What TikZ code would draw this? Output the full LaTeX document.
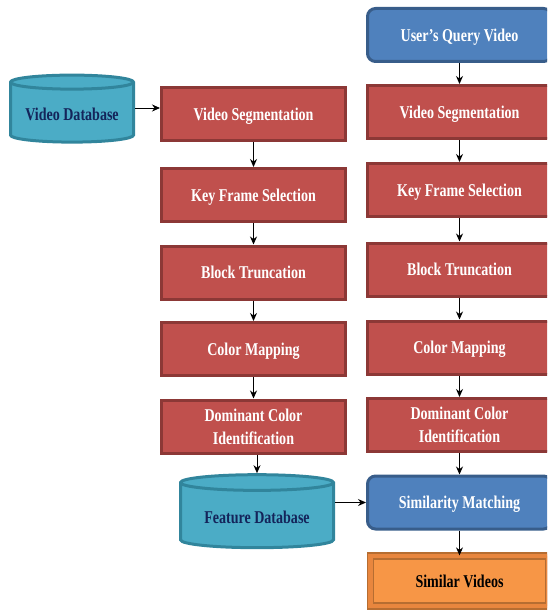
\documentclass[tikz,border=0pt]{standalone}
\usepackage{fontspec}
\setmainfont{Liberation Serif}[FakeStretch=0.78]
\usetikzlibrary{shapes.geometric,arrows.meta}
\definecolor{boxred}{RGB}{192,80,77}
\definecolor{boxredline}{RGB}{140,56,54}
\definecolor{boxblue}{RGB}{79,129,189}
\definecolor{boxblueline}{RGB}{56,93,138}
\definecolor{dbcyan}{RGB}{75,172,198}
\definecolor{dbcyanline}{RGB}{49,133,156}
\definecolor{dbtext}{RGB}{20,36,90}
\definecolor{outorange}{RGB}{247,150,70}
\definecolor{outband}{RGB}{232,134,62}
\definecolor{outorangeline}{RGB}{182,109,49}
\tikzstyle{arrow} = [-{Stealth[length=8pt,width=7pt]},line width=0.9pt]
\tikzstyle{stepbox} = [draw=boxredline,fill=boxred,line width=3pt,minimum width=184pt,minimum height=53pt,text=white,align=center,text depth=0pt,font=\fontsize{18}{23}\selectfont\bfseries]
\tikzstyle{querybox} = [stepbox,draw=boxblueline,fill=boxblue,rounded corners=8pt]
\tikzstyle{resultbox} = [stepbox,draw=outorangeline,double=outband,double distance=4.5pt,line width=1.3pt,fill=outorange,text=black,minimum width=178pt,minimum height=50pt]
\tikzstyle{database} = [cylinder,shape border rotate=90,aspect=0.14,draw=dbcyanline,fill=dbcyan,line width=3pt,text=dbtext,text depth=0pt,font=\fontsize{18}{23}\selectfont\bfseries]

\begin{document}
\begin{tikzpicture}[x=1pt,y=-1pt]
        \useasboundingbox (0,0) rectangle (547,610);
        \clip (0,0) rectangle (547,610);
        % databases
        \node[database,minimum width=123pt,minimum height=67pt] at (72,114) (vdb) {Video Database};
        \node[database,minimum width=153pt,minimum height=73pt] at (257,517) (fdb) {Feature Database};
        % left column
        \node[stepbox] at (253.5,114) (lvs) {Video Segmentation};
        \node[stepbox] at (253.5,195) (lkf) {Key Frame Selection};
        \node[stepbox] at (253.5,272.5) (lbt) {Block Truncation};
        \node[stepbox] at (253.5,349) (lcm) {Color Mapping};
        \node[stepbox] at (253.5,426.5) (ldc) {Dominant Color\\Identification};
        % right column
        \node[querybox] at (459.5,35) (query) {User’s Query Video};
        \node[stepbox] at (459.5,112) (rvs) {Video Segmentation};
        \node[stepbox] at (459.5,190) (rkf) {Key Frame Selection};
        \node[stepbox] at (459.5,269.5) (rbt) {Block Truncation};
        \node[stepbox] at (459.5,347.5) (rcm) {Color Mapping};
        \node[stepbox] at (459.5,425) (rdc) {Dominant Color\\Identification};
        \node[querybox] at (459.5,502.5) (sm) {Similarity Matching};
        \node[resultbox] at (459.5,581) (sv) {Similar Videos};

        \draw[arrow] (vdb.east |- 0,108) -- (lvs.west |- 0,108);
        \draw[arrow] (lvs) -- (lkf);
        \draw[arrow] (lkf) -- (lbt);
        \draw[arrow] (lbt) -- (lcm);
        \draw[arrow] (lcm) -- (ldc);
        \draw[arrow] (ldc.south -| fdb.north) -- (fdb.north);
        \draw[arrow] (query) -- (rvs);
        \draw[arrow] (rvs) -- (rkf);
        \draw[arrow] (rkf) -- (rbt);
        \draw[arrow] (rbt) -- (rcm);
        \draw[arrow] (rcm) -- (rdc);
        \draw[arrow] (rdc) -- (sm);
        \draw[arrow] (fdb.east |- sm.west) -- (sm.west);
        \draw[arrow] (sm) -- (sv);
    \end{tikzpicture}
\end{document}
